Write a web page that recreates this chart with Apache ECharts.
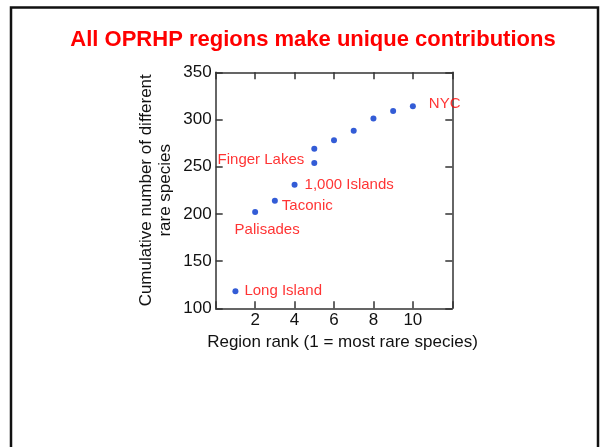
<!DOCTYPE html>
<html>
<head>
<meta charset="utf-8">
<script src="https://cdn.jsdelivr.net/npm/echarts@6/dist/echarts.min.js"></script>
<style>
html,body{margin:0;padding:0;background:#fff;}
#chart{width:600px;height:447px;}
</style>
</head>
<body>
<div id="chart"></div>
<script>
// ---- data ----
const titleText = 'All OPRHP regions make unique contributions';
const xAxisTitle = 'Region rank (1 = most rare species)';
const yAxisTitle = 'Cumulative number of different\nrare species';
const ranks   = [1, 2, 3, 4, 5, 5, 6, 7, 8, 9, 10];
const species = [118, 202, 214, 231, 254, 269, 278, 288, 301, 309, 314];
const pointNames = ['Long Island', 'Palisades', 'Taconic', '1,000 Islands', 'Finger Lakes', '', '', '', '', '', 'NYC'];
const xTickLabels = [2, 4, 6, 8, 10];
const yTickLabels = [100, 150, 200, 250, 300, 350];

// ---- styling (label placement) ----
const labelPlacement = {
  'Long Island':   { position: 'right',  offset: [1, 0] },
  'Palisades':     { position: 'bottom', offset: [12, 2] },
  'Taconic':       { position: 'right',  offset: [-1, 5] },
  '1,000 Islands': { position: 'right',  offset: [2, 0] },
  'Finger Lakes':  { position: 'left',   offset: [-2, -3] },
  'NYC':           { position: 'right',  offset: [8, -2] }
};

const FONT = '"Liberation Sans", Arial, Helvetica, sans-serif';
const AX = '#333';

const scatterData = ranks.map((r, i) => {
  const name = pointNames[i];
  const item = { value: [r, species[i]], name: name };
  if (name && labelPlacement[name]) {
    item.label = {
      show: true,
      formatter: name,
      position: labelPlacement[name].position,
      offset: labelPlacement[name].offset,
      distance: 5,
      color: '#ff0000',
      fontSize: 15,
      fontFamily: FONT
    };
  }
  return item;
});

const chart = echarts.init(document.getElementById('chart'), null, { renderer: 'canvas' });

function axisLine() { return { show: true, onZero: false, lineStyle: { color: AX, width: 1.5 } }; }
function tick() { return { show: true, inside: true, length: 7, lineStyle: { color: AX, width: 1.5 } }; }

chart.setOption({
  animation: false,
  backgroundColor: '#fff',
  title: {
    text: titleText,
    left: 308, top: 24, textAlign: 'center',
    textStyle: { color: '#ff0000', fontSize: 22, fontWeight: 'bold', fontFamily: FONT }
  },
  graphic: [{
    type: 'rect',
    shape: { x: 11, y: 7.5, width: 587, height: 470 },
    style: { fill: 'none', stroke: '#111', lineWidth: 2.5 },
    silent: true
  }],
  grid: { left: 215.7, right: 147.7, top: 72.3, bottom: 138.7 },
  xAxis: [{
    type: 'value', position: 'bottom', min: 0, max: 12, interval: 2,
    axisLine: axisLine(), axisTick: tick(), splitLine: { show: false },
    axisLabel: {
      color: '#111', fontSize: 17, fontFamily: FONT, margin: 4,
      formatter: v => (xTickLabels.indexOf(v) >= 0 ? String(v) : '')
    },
    name: xAxisTitle, nameLocation: 'middle', nameGap: 26,
    nameTextStyle: { color: '#111', fontSize: 17, fontFamily: FONT, padding: [0, 0, 0, 17] }
  }, {
    type: 'value', position: 'top', min: 0, max: 12, interval: 2,
    axisLine: axisLine(), axisTick: tick(), splitLine: { show: false },
    axisLabel: { show: false }
  }],
  yAxis: [{
    type: 'value', position: 'left', min: 100, max: 350, interval: 50,
    axisLine: axisLine(), axisTick: tick(), splitLine: { show: false },
    axisLabel: {
      color: '#111', fontSize: 17, fontFamily: FONT, margin: 4,
      formatter: v => (yTickLabels.indexOf(v) >= 0 ? String(v) : '')
    },
    name: yAxisTitle, nameLocation: 'middle', nameGap: 41, nameRotate: 90,
    nameTextStyle: { color: '#111', fontSize: 17, fontFamily: FONT, lineHeight: 19 }
  }, {
    type: 'value', position: 'right', min: 100, max: 350, interval: 50,
    axisLine: axisLine(), axisTick: tick(), splitLine: { show: false },
    axisLabel: { show: false }
  }],
  series: [{
    type: 'scatter',
    xAxisIndex: 0, yAxisIndex: 0,
    symbol: 'circle', symbolSize: 6,
    itemStyle: { color: '#0033cc' },
    data: scatterData
  }]
});
</script>
</body>
</html>
